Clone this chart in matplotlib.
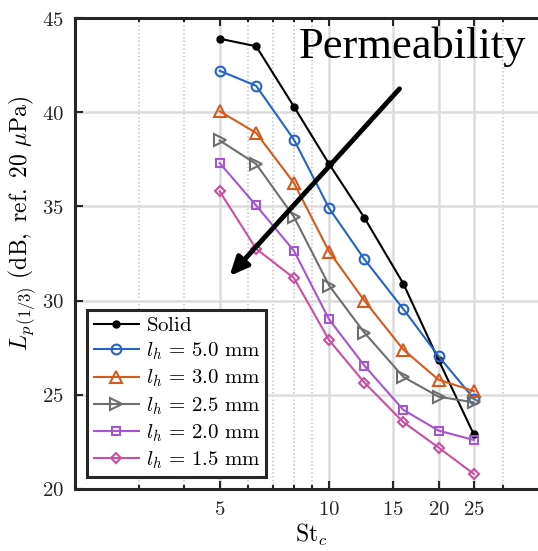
import numpy as np
import matplotlib.pyplot as plt
from matplotlib.ticker import FixedLocator, NullFormatter

plt.rcParams['mathtext.fontset'] = 'cm'
plt.rcParams['font.family'] = ['DejaVu Serif']

# Data (1/3-octave Strouhal bands)
st = [5, 6.3, 8, 10, 12.5, 16, 20, 25]
solid = [43.9, 43.5, 40.3, 37.25, 34.4, 30.9, 26.85, 22.9]
lh_50 = [42.2, 41.4, 38.55, 34.9, 32.2, 29.55, 27.05, 24.8]
lh_30 = [40.05, 38.9, 36.25, 32.6, 30.0, 27.4, 25.8, 25.2]
lh_25 = [38.5, 37.25, 34.45, 30.8, 28.3, 25.95, 24.9, 24.6]
lh_20 = [37.3, 35.05, 32.65, 29.0, 26.55, 24.2, 23.1, 22.6]
lh_15 = [35.8, 32.75, 31.2, 27.9, 25.65, 23.55, 22.2, 20.8]

labels = [r'$\mathrm{Solid}$', r'$l_h\,=\,5.0\ \mathrm{mm}$', r'$l_h\,=\,3.0\ \mathrm{mm}$',
          r'$l_h\,=\,2.5\ \mathrm{mm}$', r'$l_h\,=\,2.0\ \mathrm{mm}$', r'$l_h\,=\,1.5\ \mathrm{mm}$']
series = [solid, lh_50, lh_30, lh_25, lh_20, lh_15]
colors = ['#000000', '#2563C9', '#D55A1E', '#6E6E6E', '#A455D2', '#C9509E']
markers = ['o', 'o', '^', '>', 's', 'D']
msizes = [4.5, 7, 8, 8, 5.5, 5.5]

xticks = [5, 10, 15, 20, 25]
yticks = [20, 25, 30, 35, 40, 45]
minor_x = [2, 3, 4, 6, 7, 8, 9, 30, 40]

fig = plt.figure(figsize=(5.38, 5.51), dpi=100)
ax = fig.add_axes([75 / 538, 62 / 551, 473 / 538, 471 / 551])

for y, lab, c, m, ms in zip(series, labels, colors, markers, msizes):
    face = c if lab == labels[0] else 'none'
    ax.plot(st, y, color=c, marker=m, markersize=ms, markerfacecolor=face,
            markeredgecolor=c, markeredgewidth=1.5, linewidth=1.5, label=lab, zorder=3)

ax.set_xscale('log')
ax.set_xlim(2, 40)
ax.set_ylim(20, 45)
ax.xaxis.set_major_locator(FixedLocator(xticks))
ax.xaxis.set_minor_locator(FixedLocator(minor_x))
ax.xaxis.set_minor_formatter(NullFormatter())
ax.set_xticklabels([f'${t}$' for t in xticks])
ax.set_yticks(yticks)
ax.set_yticklabels([f'${t}$' for t in yticks])

ax.grid(True, which='major', color='#dcdcdc', linewidth=1.8, zorder=0)
ax.grid(True, which='minor', axis='x', color='#c4c4c4', linewidth=1.1, linestyle=(0, (1.0, 1.5)), zorder=0)
ax.set_axisbelow(True)

ax.tick_params(which='both', direction='in', top=True, right=False, labelsize=15, colors='#262626',
               width=1.5, pad=8)
ax.tick_params(which='major', length=6)
ax.tick_params(which='minor', length=3)
for side in ['left', 'bottom', 'top']:
    ax.spines[side].set_linewidth(2.2)
    ax.spines[side].set_color('#262626')
ax.spines['right'].set_visible(False)

ax.set_xlabel(r'$\mathrm{St}_c$', fontsize=17, labelpad=2)
ax.set_ylabel(r'$L_{p\,(1/3)}\ \mathrm{(dB,\ ref.\ 20\ }\mu\mathrm{Pa)}$', fontsize=17)
ax.yaxis.set_label_coords(-0.078, 0.565)

leg = ax.legend(loc='lower left', bbox_to_anchor=(0.026, 0.025), fontsize=15, frameon=True,
                fancybox=False, edgecolor='#262626', handlelength=2.2, handletextpad=0.3,
                borderpad=0.3, labelspacing=0.27, borderaxespad=0)
leg.get_frame().set_linewidth(2.2)
leg.get_frame().set_alpha(1)

ax.annotate('', xy=(5.26, 31.2), xytext=(15.8, 41.35),
            arrowprops=dict(arrowstyle='-|>,head_length=1.1,head_width=0.5', color='black', lw=3.5),
            zorder=5)
ax.text(16.9, 43.5, 'Permeability', fontsize=32, family='Liberation Serif', ha='center', va='center',
        zorder=6)

fig.savefig('out.png', dpi=100)
